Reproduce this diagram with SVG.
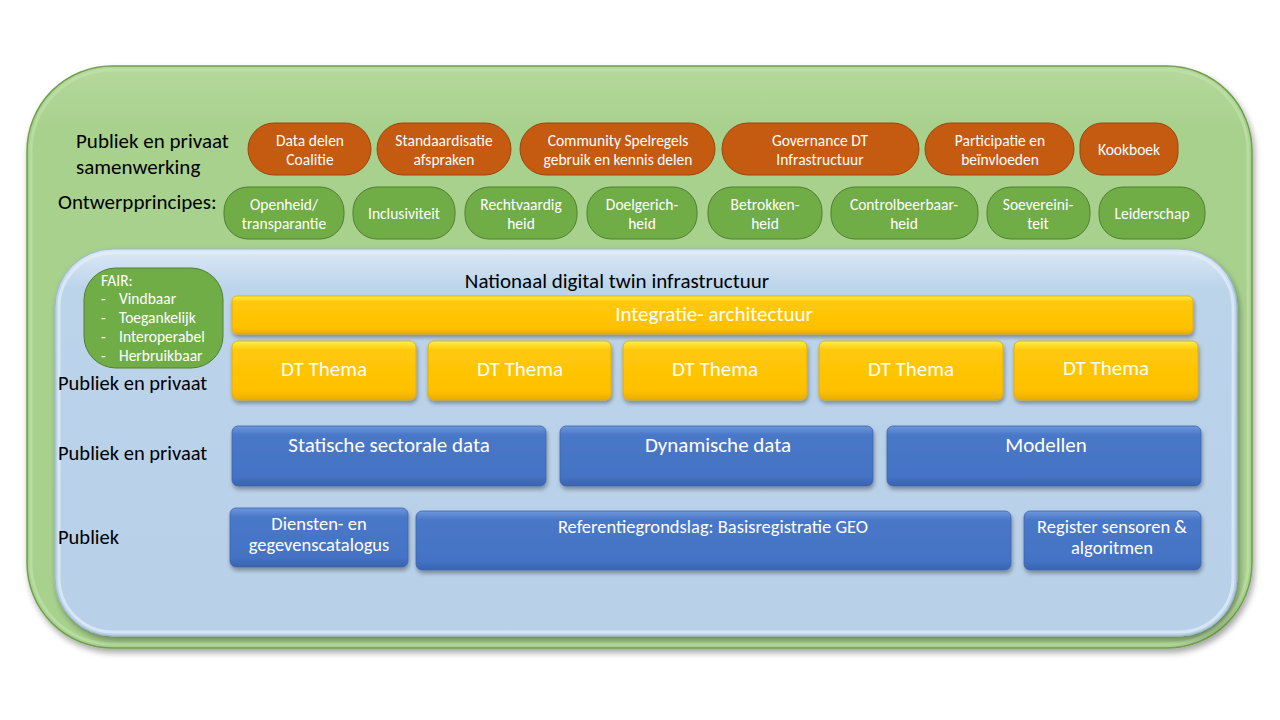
<svg xmlns="http://www.w3.org/2000/svg" width="1280" height="720" viewBox="0 0 1280 720">
<style>
text { font-family: Carlito, Lato, "Liberation Sans", sans-serif; }
.lbl { font-size: 21px; fill: #000; }
.lblb { font-size: 20.5px; fill: #000; }
.pt { font-size: 15.5px; fill: #fff; text-anchor: middle; }
.wt { font-size: 21px; fill: #fff; text-anchor: middle; }
.wt2 { font-size: 18.5px; fill: #fff; text-anchor: middle; }
.fair { font-size: 15.5px; fill: #fff; }
.orange { fill: #c55a11; stroke: #9a4510; stroke-width: 1; }
.green { fill: #70ad47; stroke: #507e32; stroke-width: 1; }
.yellow { fill: url(#gy); stroke: #e0a800; stroke-width: 0.8; filter: url(#sh); }
.blue { fill: url(#gb); stroke: #3b65ae; stroke-width: 0.8; filter: url(#sh); }
</style>
<defs>
<filter id="sh" x="-10%" y="-20%" width="120%" height="150%">
<feDropShadow dx="1" dy="3" stdDeviation="2" flood-color="#000" flood-opacity="0.35"/>
</filter>
<filter id="shBig" x="-5%" y="-5%" width="110%" height="115%">
<feDropShadow dx="2" dy="4" stdDeviation="3" flood-color="#000" flood-opacity="0.35"/>
</filter>
<linearGradient id="gy" x1="0" y1="0" x2="0" y2="1">
<stop offset="0" stop-color="#fff04a"/>
<stop offset="0.15" stop-color="#ffc90a"/>
<stop offset="0.85" stop-color="#ffc000"/>
<stop offset="1" stop-color="#e9ac00"/>
</linearGradient>
<linearGradient id="gb" x1="0" y1="0" x2="0" y2="1">
<stop offset="0" stop-color="#6d97dc"/>
<stop offset="0.15" stop-color="#4a78c8"/>
<stop offset="0.85" stop-color="#4472c4"/>
<stop offset="1" stop-color="#3a63ad"/>
</linearGradient>
<linearGradient id="gg" x1="0" y1="0" x2="0" y2="1">
<stop offset="0" stop-color="#b5d99c"/>
<stop offset="0.1" stop-color="#a9d18e"/>
<stop offset="1" stop-color="#a9d18e"/>
</linearGradient>
<linearGradient id="gl" x1="0" y1="0" x2="0" y2="1">
<stop offset="0" stop-color="#dbe9f6"/>
<stop offset="0.1" stop-color="#bcd4ea"/>
<stop offset="1" stop-color="#b8d0e8"/>
</linearGradient>
</defs>

<g id="outer-panel">
<rect x="27" y="66" width="1225" height="582" rx="85" fill="url(#gg)" stroke="#6f9f4e" stroke-width="1.5" filter="url(#shBig)"/>
<rect x="31" y="70" width="1217" height="574" rx="81" fill="none" stroke="#c3e2ae" stroke-width="3" opacity="0.6"/>
</g>

<g id="label-samenwerking">
<text class="lbl" x="76" y="148">Publiek en privaat</text>
<text class="lbl" x="76" y="174">samenwerking</text>
</g>

<g id="samenwerking-row">
<g id="n-datadelen"><rect class="orange" x="248" y="123" width="123" height="52" rx="26"/><text class="pt" x="310" y="146">Data delen</text><text class="pt" x="310" y="165">Coalitie</text></g>
<g id="n-standaard"><rect class="orange" x="377" y="123" width="134" height="52" rx="26"/><text class="pt" x="444" y="146">Standaardisatie</text><text class="pt" x="444" y="165">afspraken</text></g>
<g id="n-community"><rect class="orange" x="520" y="123" width="195" height="52" rx="26"/><text class="pt" x="618" y="146">Community Spelregels</text><text class="pt" x="618" y="165">gebruik en kennis delen</text></g>
<g id="n-governance"><rect class="orange" x="722" y="123" width="197" height="52" rx="26"/><text class="pt" x="820" y="146">Governance DT</text><text class="pt" x="820" y="165">Infrastructuur</text></g>
<g id="n-participatie"><rect class="orange" x="925" y="123" width="149" height="52" rx="26"/><text class="pt" x="1000" y="146">Participatie en</text><text class="pt" x="1000" y="165">beïnvloeden</text></g>
<g id="n-kookboek"><rect class="orange" x="1080" y="123" width="98" height="52" rx="22"/><text class="pt" x="1129" y="155">Kookboek</text></g>
</g>

<g id="label-ontwerp">
<text class="lbl" x="58" y="209" font-size="22">Ontwerpprincipes:</text>
</g>

<g id="principes-row">
<g id="n-openheid"><rect class="green" x="224" y="187" width="120" height="52" rx="24"/><text class="pt" x="284" y="210">Openheid/</text><text class="pt" x="284" y="229">transparantie</text></g>
<g id="n-inclusiviteit"><rect class="green" x="353" y="187" width="102" height="52" rx="24"/><text class="pt" x="404" y="219">Inclusiviteit</text></g>
<g id="n-rechtvaardig"><rect class="green" x="465" y="187" width="112" height="52" rx="24"/><text class="pt" x="521" y="210">Rechtvaardig</text><text class="pt" x="521" y="229">heid</text></g>
<g id="n-doelgericht"><rect class="green" x="587" y="187" width="110" height="52" rx="24"/><text class="pt" x="642" y="210">Doelgerich-</text><text class="pt" x="642" y="229">heid</text></g>
<g id="n-betrokken"><rect class="green" x="708" y="187" width="114" height="52" rx="24"/><text class="pt" x="765" y="210">Betrokken-</text><text class="pt" x="765" y="229">heid</text></g>
<g id="n-controle"><rect class="green" x="831" y="187" width="147" height="52" rx="24"/><text class="pt" x="904" y="210">Controlbeerbaar-</text><text class="pt" x="904" y="229">heid</text></g>
<g id="n-soevereiniteit"><rect class="green" x="987" y="187" width="103" height="52" rx="24"/><text class="pt" x="1038" y="210">Soevereini-</text><text class="pt" x="1038" y="229">teit</text></g>
<g id="n-leiderschap"><rect class="green" x="1099" y="187" width="106" height="52" rx="24"/><text class="pt" x="1152" y="219">Leiderschap</text></g>
</g>

<g id="inner-panel">
<rect x="55" y="249" width="1182" height="387" rx="58" fill="url(#gl)" stroke="#9ab7d4" stroke-width="1" filter="url(#shBig)"/>
<rect x="59" y="253" width="1174" height="379" rx="54" fill="none" stroke="#e4eff9" stroke-width="3" opacity="0.7"/>
</g>

<g id="n-fair">
<rect class="green" x="84" y="268" width="139" height="100" rx="32"/>
<text class="fair" x="101" y="286">FAIR:</text>
<text class="fair" x="101" y="304">-</text><text class="fair" x="119" y="304">Vindbaar</text>
<text class="fair" x="101" y="323">-</text><text class="fair" x="119" y="323">Toegankelijk</text>
<text class="fair" x="101" y="342">-</text><text class="fair" x="119" y="342">Interoperabel</text>
<text class="fair" x="101" y="361">-</text><text class="fair" x="119" y="361">Herbruikbaar</text>
</g>

<g id="title">
<text x="617" y="288" font-size="21" fill="#000" text-anchor="middle">Nationaal digital twin infrastructuur</text>
</g>

<g id="n-integratie">
<rect class="yellow" x="232" y="296" width="961" height="38" rx="5"/>
<text class="wt" x="714" y="321">Integratie- architectuur</text>
</g>

<g id="thema-row">
<g id="n-thema1"><rect class="yellow" x="232" y="341" width="184" height="59" rx="6"/><text class="wt" x="324" y="376">DT Thema</text></g>
<g id="n-thema2"><rect class="yellow" x="428" y="341" width="183" height="59" rx="6"/><text class="wt" x="520" y="376">DT Thema</text></g>
<g id="n-thema3"><rect class="yellow" x="623" y="341" width="184" height="59" rx="6"/><text class="wt" x="715" y="376">DT Thema</text></g>
<g id="n-thema4"><rect class="yellow" x="819" y="341" width="184" height="59" rx="6"/><text class="wt" x="911" y="376">DT Thema</text></g>
<g id="n-thema5"><rect class="yellow" x="1014" y="341" width="184" height="59" rx="6"/><text class="wt" x="1106" y="375">DT Thema</text></g>
</g>

<g id="labels-left">
<text class="lblb" x="58" y="390">Publiek en privaat</text>
<text class="lblb" x="58" y="460">Publiek en privaat</text>
<text class="lblb" x="58" y="544">Publiek</text>
</g>

<g id="data-row">
<g id="n-statisch"><rect class="blue" x="232" y="426" width="314" height="60" rx="6"/><text class="wt" x="389" y="452">Statische sectorale data</text></g>
<g id="n-dynamisch"><rect class="blue" x="560" y="426" width="313" height="60" rx="6"/><text class="wt" x="718" y="452">Dynamische data</text></g>
<g id="n-modellen"><rect class="blue" x="887" y="426" width="314" height="60" rx="6"/><text class="wt" x="1046" y="452">Modellen</text></g>
</g>

<g id="publiek-row">
<g id="n-diensten"><rect class="blue" x="230" y="508" width="178" height="59" rx="6"/><text class="wt2" x="319" y="530">Diensten- en</text><text class="wt2" x="319" y="551">gegevenscatalogus</text></g>
<g id="n-referentie"><rect class="blue" x="416" y="511" width="595" height="59" rx="6"/><text class="wt2" x="713" y="533">Referentiegrondslag: Basisregistratie GEO</text></g>
<g id="n-register"><rect class="blue" x="1024" y="511" width="177" height="59" rx="6"/><text class="wt2" x="1112" y="533">Register sensoren &amp;</text><text class="wt2" x="1112" y="554">algoritmen</text></g>
</g>

<g id="connectors"></g>
</svg>
